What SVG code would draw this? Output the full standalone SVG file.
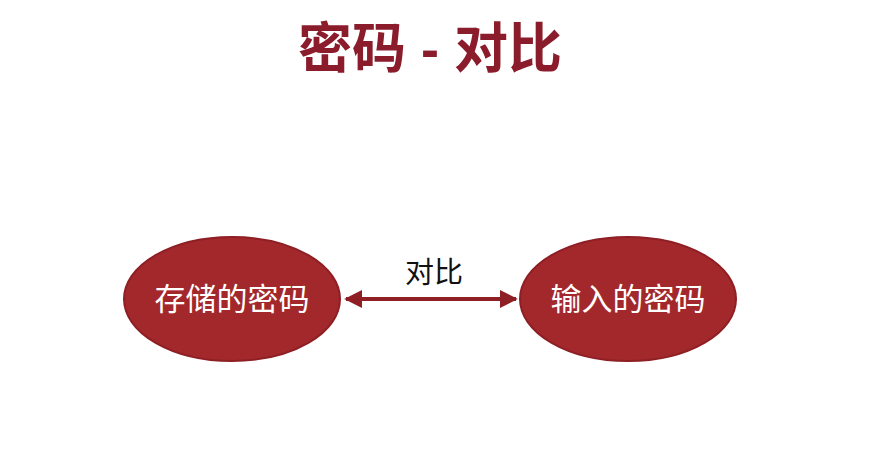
<svg xmlns="http://www.w3.org/2000/svg" width="877" height="457" viewBox="0 0 877 457">
<style>
.n{fill:#a2282c;stroke:#8e1f24;stroke-width:2}
.t{font-family:"Liberation Sans","Noto Sans CJK SC",sans-serif;fill:#fff;font-size:31px;text-anchor:middle}
</style>
<defs><marker id="a" viewBox="0 0 10 10" refX="9" refY="5" markerWidth="4.5" markerHeight="4.5" orient="auto-start-reverse"><path d="M0,0L10,5L0,10z" fill="#8e1f24"/></marker></defs>
<rect width="877" height="457" fill="#fff"/>
<text x="430" y="68" font-family="Liberation Sans,'Noto Sans CJK SC',sans-serif" font-size="54" font-weight="bold" fill="#8a1c2c" text-anchor="middle">密码 - 对比</text>
<g id="n1"><ellipse class="n" cx="232" cy="299" rx="108" ry="62"/><text class="t" x="232" y="310">存储的密码</text></g>
<g id="n2"><ellipse class="n" cx="628" cy="299" rx="108" ry="62"/><text class="t" x="628" y="310">输入的密码</text></g>
<g id="edges"><line x1="346" y1="299" x2="516" y2="299" stroke="#8e1f24" stroke-width="4" marker-start="url(#a)" marker-end="url(#a)"/>
<text x="434" y="283" font-family="Liberation Sans,'Noto Sans CJK SC',sans-serif" font-size="29" fill="#111" text-anchor="middle">对比</text></g>
</svg>
